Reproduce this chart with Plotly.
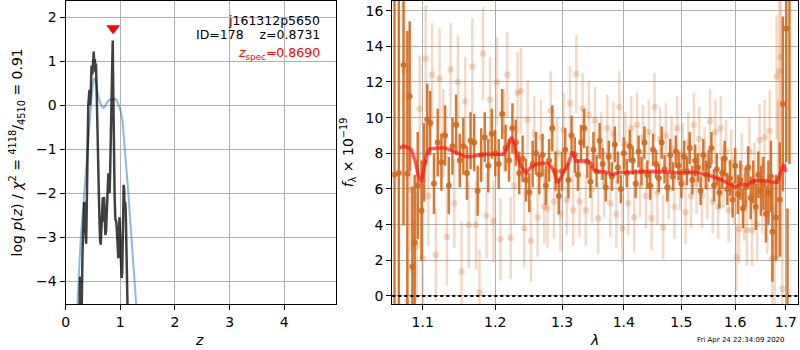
import plotly.graph_objects as go

# ---------------- redshift fit: log p(z) ----------------
z_grid = [0.255, 0.265, 0.28, 0.295, 0.31, 0.325, 0.34, 0.35, 0.362, 0.376, 0.388, 0.40,
          0.415, 0.436, 0.446, 0.46, 0.475, 0.49, 0.50, 0.515, 0.525, 0.535, 0.545, 0.555,
          0.565, 0.575, 0.585, 0.60, 0.615, 0.63, 0.642, 0.655, 0.668, 0.68, 0.69, 0.703,
          0.715, 0.728, 0.74, 0.752, 0.765, 0.782, 0.795, 0.805, 0.815, 0.826, 0.836, 0.848,
          0.856, 0.862, 0.868, 0.875, 0.885, 0.897, 0.91, 0.927, 0.94, 0.952, 0.964, 0.975,
          0.985, 1.0, 1.012, 1.025, 1.036, 1.05, 1.062, 1.07, 1.08, 1.09, 1.1, 1.112, 1.122,
          1.133]
log_pz = [-4.6, -3.9, -3.95, -4.55, -3.3, -2.5, -2.2, -2.35, -3.0, -3.15, -2.2, -1.0,
          0.0, 0.35, 0.0, 0.3, 0.9, 0.7, 1.1, 1.22, 0.85, 1.05, 0.75, 0.95,
          0.5, -0.2, -0.5, -1.4, -2.4, -3.05, -3.17, -2.8, -2.4, -2.1, -2.65, -2.08,
          -2.5, -2.95, -2.85, -2.3, -1.9, -1.55, -1.8, -2.0, -1.5, -0.9, -0.2, 0.6,
          1.45, 1.47, 0.7, -0.3, -1.3, -2.1, -2.6, -2.65, -2.9, -3.3, -3.48, -2.9,
          -2.55, -3.1, -3.5, -3.93, -3.8, -2.6, -1.81, -1.9, -2.35, -2.2, -2.4, -3.2, -3.9,
          -4.6]

z_prior = [0.212, 0.236, 0.257, 0.278, 0.31, 0.34, 0.37, 0.40, 0.43, 0.46, 0.49, 0.52,
           0.55, 0.58, 0.62, 0.66, 0.69, 0.72, 0.76, 0.80, 0.85, 0.90, 0.93, 0.96, 1.0,
           1.04, 1.085, 1.12, 1.145, 1.175, 1.206, 1.237, 1.267, 1.295]
log_prior = [-4.6, -4.0, -3.5, -3.0, -2.5, -2.0, -1.5, -1.0, -0.5, 0.0, 0.4, 0.62,
             0.55, 0.3, 0.1, -0.02, -0.06, -0.03, 0.07, 0.13, 0.12, 0.15, 0.12, 0.03, -0.1,
             -0.35, -1.0, -1.5, -1.95, -2.5, -3.0, -3.5, -4.0, -4.6]

z_spec = 0.8690
z_best = 0.8731
chi2_num, chi2_den = 4118, 4510

# ---------------- 1D spectrum (two orientations) + model ----------------
wave_a = [10635, 10690, 10750, 10800, 10830, 10865, 10895, 10935, 10985, 11020, 11060,
          11100, 11150, 11200, 11250, 11300, 11350, 11400, 11450, 11500, 11550,
          11600, 11650, 11700, 11750, 11800, 11850, 11900, 11950, 12000, 12050,
          12100, 12150, 12200, 12250, 12300, 12350, 12400, 12450, 12500, 12550,
          12600, 12650, 12700, 12750, 12800, 12850, 12900, 12950, 13000, 13050,
          13100, 13150, 13200, 13250, 13300, 13350, 13400, 13450, 13500, 13550,
          13600, 13650, 13700, 13750, 13800, 13850, 13900, 13950, 14000, 14050,
          14100, 14150, 14200, 14250, 14300, 14350, 14400, 14450, 14500, 14550,
          14600, 14650, 14700, 14750, 14800, 14850, 14900, 14950, 15000, 15050,
          15100, 15150, 15200, 15250, 15300, 15350, 15400, 15450, 15500, 15550,
          15600, 15650, 15700, 15750, 15800, 15850, 15900, 15950, 16000, 16050,
          16100, 16150, 16200, 16250, 16300, 16350, 16400, 16450, 16500, 16550,
          16600, 16650, 16700,
          16730, 16800, 16880, 16940, 17010, 17035, 17075]
flux_a = [6.8, 6.9, 12.95, 6.86, 11.2, 1.64, 3.0, 6.2, 4.78, 7.5, 9.9,
          9.7, 6.3, 8.6, 7.5, 9.0, 6.2, 8.4, 9.6, 7.6, 8.4,
          6.9, 8.7, 8.6, 5.9, 7.9, 8.9, 7.3, 9.1, 8.0, 7.4,
          10.2, 8.3, 7.6, 9.4, 8.6, 6.9, 7.7, 6.5, 5.8, 7.4,
          8.0, 6.8, 7.9, 6.2, 7.6, 9.4, 7.0, 5.6, 7.0, 8.2,
          6.5, 9.0, 7.9, 6.8, 8.6, 9.4, 7.5, 6.4, 8.2, 7.0,
          8.7, 7.4, 6.1, 7.8, 6.7, 8.5, 7.2, 6.0, 8.0, 6.9,
          8.4, 7.6, 6.3, 8.1, 7.0, 8.6, 6.8, 6.2, 8.2, 7.4,
          6.6, 8.6, 7.1, 6.1, 7.9, 6.7, 8.1, 7.3, 6.3, 7.8,
          7.0, 8.3, 6.5, 7.6, 7.2, 5.9, 7.9, 6.8, 7.3, 8.3,
          6.2, 7.1, 5.8, 6.9, 7.7, 6.0, 6.6, 5.4, 7.3, 5.7,
          6.5, 4.9, 6.1, 7.2, 5.5, 6.4, 5.0, 6.8, 5.9, 6.3,
          4.6, 5.8, 6.7,
          3.6, 4.4, 5.4, 10.77, 15.0, -4.0, 20.0]
err_a = [14.0, 11.0, 9.0, 8.0, 4.2, 4.5, 3.8, 3.0, 2.8, 2.2, 2.0,
         1.8, 1.7, 1.9, 1.6, 1.7, 1.6, 1.6, 1.7, 1.5, 1.6,
         1.5, 1.6, 1.6, 1.4, 1.5, 1.4, 1.5, 1.4, 1.3, 1.4,
         1.4, 1.3, 1.2, 1.4, 1.3, 1.2, 1.3, 1.2, 1.1, 1.3,
         1.2, 1.1, 1.2, 1.1, 1.2, 1.3, 1.1, 1.0, 1.1, 1.2,
         1.0, 1.1, 1.0, 0.9, 1.0, 1.1, 0.9, 0.9, 1.0, 0.9,
         1.0, 0.9, 0.8, 0.9, 0.8, 1.0, 0.9, 0.8, 0.9, 0.8,
         0.9, 0.8, 0.8, 0.9, 0.8, 0.9, 0.8, 0.8, 0.9, 0.8,
         0.8, 0.9, 0.8, 0.8, 0.9, 0.8, 0.9, 0.8, 0.8, 0.9,
         0.8, 0.9, 0.8, 0.9, 0.8, 0.8, 0.9, 0.8, 0.9, 0.9,
         0.9, 0.9, 0.9, 0.9, 1.0, 0.9, 1.0, 1.0, 1.0, 1.1,
         1.1, 1.1, 1.1, 1.2, 1.2, 1.2, 1.3, 1.3, 1.4, 1.5,
         1.6, 1.8, 2.0,
         2.8, 2.4, 3.2, 4.9, 7.5, 8.9, 12.6]

wave_b = [10760, 10800, 10840, 10880, 10920, 10960, 11000, 11040, 11075,
          11125, 11175, 11225, 11275, 11325, 11375, 11425, 11475, 11525, 11575,
          11625, 11675, 11725, 11775, 11825, 11875, 11925, 11975, 12025, 12075,
          12125, 12175, 12225, 12275, 12325, 12375, 12425, 12475, 12525, 12575,
          12625, 12675, 12725, 12775, 12825, 12875, 12925, 12975, 13025, 13075,
          13125, 13175, 13225, 13275, 13325, 13375, 13425, 13475, 13525, 13575,
          13625, 13675, 13725, 13775, 13825, 13875, 13925, 13975, 14025, 14075,
          14125, 14175, 14225, 14275, 14325, 14375, 14425, 14475, 14525, 14575,
          14625, 14675, 14725, 14775, 14825, 14875, 14925, 14975, 15025, 15075,
          15125, 15175, 15225, 15275, 15325, 15375, 15425, 15475, 15525, 15575,
          15625, 15675, 15725, 15775, 15825, 15875, 15925, 15975, 16025, 16075,
          16125, 16175, 16225, 16275, 16325, 16375, 16425, 16475, 16525, 16575,
          16625, 16675, 16725, 16775, 16815, 16840, 16870, 16900, 16930]
flux_b = [12.6, -0.3, 5.95, 1.33, 2.8, 10.5, 2.1, 13.3, 5.6,
          12.4, 2.3, 12.2, 9.1, 3.3, 12.7, 5.2, 12.0, 1.36, 10.9,
          3.98, 12.86, 3.98, 0.2, 13.6, 4.5, 11.0, 4.2, 12.0, 3.18,
          9.3, 12.4, 3.25, 6.2, 11.4, 11.5, 3.8, 9.9, 3.1, 9.1,
          4.4, 8.9, 5.0, 4.9, 10.4, 5.3, 8.0, 4.6, 9.3, 5.4,
          10.8, 4.8, 12.45, 5.3, 10.5, 4.8, 10.15, 6.0, 9.85, 4.36,
          8.4, 6.3, 9.4, 5.2, 9.1, 4.6, 10.6, 3.8, 8.5, 5.2,
          9.4, 4.4, 9.6, 6.2, 8.9, 5.6, 9.2, 4.36, 10.6, 5.8,
          8.8, 3.85, 9.0, 6.0, 8.3, 5.0, 9.4, 6.5, 7.9, 4.7,
          8.6, 5.6, 9.6, 6.3, 8.8, 5.6, 7.8, 6.1, 9.8, 5.3,
          9.2, 5.0, 9.4, 6.7, 8.1, 4.8, 7.5, 5.9, 2.17, 3.74,
          7.2, 5.0, 3.7, 8.1, 3.7, 6.6, 4.0, 8.75, 5.6, 8.9,
          4.6, 9.25, 2.1, 2.1, 12.3, 6.5, 12.6, 13.4, 0.4, 8.0]
err_b = [4.5, 3.0, 3.5, 3.0, 3.0, 3.0, 3.2, 3.0, 2.8,
         2.9, 2.6, 2.8, 2.5, 2.7, 2.6, 2.5, 2.6, 2.8, 2.5,
         2.4, 2.7, 2.5, 2.4, 2.6, 2.4, 2.4, 2.3, 2.5, 2.3,
         2.3, 2.4, 2.3, 2.2, 2.3, 2.4, 2.2, 2.2, 2.3, 2.1,
         2.2, 2.1, 2.1, 2.2, 2.2, 2.1, 2.0, 2.1, 2.1, 2.0,
         2.1, 2.0, 2.2, 2.0, 2.0, 2.0, 1.9, 1.9, 1.9, 2.0,
         1.9, 1.9, 1.9, 1.9, 1.8, 1.9, 2.0, 1.9, 1.8, 1.8,
         1.8, 1.9, 1.8, 1.8, 1.8, 1.8, 1.8, 1.8, 1.9, 1.8,
         1.8, 1.8, 1.8, 1.7, 1.8, 1.8, 1.8, 1.7, 1.8, 1.8,
         1.7, 1.8, 1.8, 1.7, 1.8, 1.8, 1.7, 1.8, 1.8, 1.8,
         1.8, 1.8, 1.8, 1.8, 1.8, 1.8, 1.8, 1.9, 1.9, 1.9,
         1.9, 1.9, 2.0, 1.9, 2.0, 2.0, 2.0, 2.0, 2.1, 2.1,
         2.2, 2.3, 2.6, 3.0, 3.5, 4.5, 5.5, 6.0, 7.0, 9.0]

model_wave = [1.070, 1.075, 1.080, 1.085, 1.090, 1.094, 1.098, 1.102, 1.106, 1.110,
              1.115, 1.120, 1.130, 1.140, 1.148, 1.155, 1.165, 1.175, 1.185, 1.195,
              1.205, 1.212, 1.218, 1.2235, 1.228, 1.232, 1.238, 1.245, 1.252, 1.262,
              1.272, 1.280, 1.287, 1.293, 1.298, 1.303, 1.309, 1.3165, 1.322, 1.331,
              1.339, 1.345, 1.350, 1.358, 1.367, 1.381, 1.392, 1.408, 1.425, 1.445,
              1.465, 1.485, 1.505, 1.527, 1.552, 1.577, 1.600, 1.610, 1.623, 1.638,
              1.657, 1.672, 1.682, 1.688, 1.696, 1.700]
model_flux = [8.3, 8.4, 8.35, 8.2, 7.6, 6.8, 6.4, 7.3, 8.0, 8.25,
              8.3, 8.3, 8.3, 8.15, 8.0, 7.85, 7.8, 7.9, 7.95, 7.95,
              7.95, 7.95, 8.4, 8.9, 8.5, 7.8, 7.25, 6.9, 7.2, 7.4,
              7.45, 7.4, 7.05, 6.35, 6.6, 7.0, 7.35, 8.1, 7.55, 7.55,
              7.6, 7.45, 7.1, 6.95, 6.98, 6.8, 6.94, 6.94, 6.95, 7.0,
              6.95, 6.9, 6.9, 6.94, 6.75, 6.47, 6.1, 6.28, 6.24, 6.47,
              6.47, 6.4, 6.37, 6.85, 7.37, 6.95]

lam_ticks = [1.1, 1.2, 1.3, 1.4, 1.5, 1.6, 1.7]
flux_ticks = [0, 2, 4, 6, 8, 10, 12, 14, 16]
z_ticks = [0, 1, 2, 3, 4]
pz_ticks = [-4, -3, -2, -1, 0, 1, 2]

FONT = "DejaVu Sans"
W, H = 800, 350
ORANGE = "210,105,30"

fig = go.Figure()

# p(z) panel
fig.add_trace(go.Scatter(x=z_prior, y=log_prior, mode="lines",
                         line=dict(color="rgba(31,119,180,0.5)", width=2),
                         xaxis="x", yaxis="y", showlegend=False))
fig.add_trace(go.Scatter(x=z_grid, y=log_pz, mode="lines",
                         line=dict(color="rgba(0,0,0,0.75)", width=2.5),
                         xaxis="x", yaxis="y", showlegend=False))
fig.add_trace(go.Scatter(x=[z_spec], y=[1.75], mode="markers",
                         marker=dict(symbol="triangle-down", color="red", size=12, line=dict(width=0)),
                         xaxis="x", yaxis="y", showlegend=False))

# spectrum panel: second orientation (faint) then first (strong)
wb = [w / 1e4 for w in wave_b]
wa = [w / 1e4 for w in wave_a]
fig.add_trace(go.Scatter(x=wb, y=flux_b, mode="markers",
                         marker=dict(color=f"rgba({ORANGE},0.25)", size=6.5, line=dict(width=0)),
                         error_y=dict(type="data", array=err_b, visible=True, width=0,
                                      thickness=2.5, color=f"rgba({ORANGE},0.25)"),
                         xaxis="x2", yaxis="y2", showlegend=False))
fig.add_trace(go.Scatter(x=wa, y=flux_a, mode="markers",
                         marker=dict(color=f"rgba({ORANGE},0.9)", size=6, line=dict(width=0)),
                         error_y=dict(type="data", array=err_a, visible=True, width=0,
                                      thickness=2.5, color=f"rgba({ORANGE},0.9)"),
                         xaxis="x2", yaxis="y2", showlegend=False))
fig.add_trace(go.Scatter(x=model_wave, y=model_flux, mode="lines",
                         line=dict(color="rgba(255,20,20,0.7)", width=3.5),
                         xaxis="x2", yaxis="y2", showlegend=False))

# zero level
fig.add_shape(type="line", xref="x2 domain", yref="y2", x0=0, x1=1, y0=0, y1=0,
              line=dict(color="black", width=2, dash="dot"))

axis_common = dict(showline=True, mirror=True, linecolor="black", linewidth=1.2,
                   ticks="outside", ticklen=5, tickwidth=1, tickcolor="black",
                   showgrid=True, gridcolor="#b0b0b0", gridwidth=1, zeroline=False,
                   tickfont=dict(family=FONT, size=14, color="black"))

def px_x(p):
    return p / W

def px_y(p):
    return 1 - p / H

ydom = [px_y(304), px_y(1)]

fig.update_layout(
    width=W, height=H, margin=dict(l=0, r=0, t=0, b=0),
    paper_bgcolor="white", plot_bgcolor="white",
    font=dict(family=FONT, size=14, color="black"),
    xaxis=dict(domain=[px_x(62), px_x(334)], range=[0, 4.945], tickvals=z_ticks,
               anchor="y", **axis_common),
    yaxis=dict(domain=ydom, range=[-4.52, 2.37], tickvals=pz_ticks,
               ticktext=[f"\u2212{-v}" if v < 0 else str(v) for v in pz_ticks],
               anchor="x", **axis_common),
    xaxis2=dict(domain=[px_x(390.7), px_x(799.3)], type="log", range=[0.02556, 0.23697],
                tickvals=lam_ticks, ticktext=[f"{v:.1f}" for v in lam_ticks],
                anchor="y2", **axis_common),
    yaxis2=dict(domain=ydom, range=[-0.45, 16.54], tickvals=flux_ticks,
                anchor="x2", **axis_common),
)

ann = []
# labels inside the p(z) panel
ann.append(dict(x=px_x(320), y=px_y(20), xref="paper", yref="paper", xanchor="right",
                yanchor="middle", text="j161312p5650", showarrow=False,
                font=dict(family=FONT, size=12.5, color="black")))
ann.append(dict(x=px_x(320), y=px_y(35), xref="paper", yref="paper", xanchor="right",
                yanchor="middle", text=f"ID=178\u00a0\u00a0\u00a0\u00a0z={z_best:.4f}",
                showarrow=False, font=dict(family=FONT, size=12.5, color="black")))
ann.append(dict(x=px_x(320), y=px_y(53), xref="paper", yref="paper", xanchor="right",
                yanchor="middle", text=f"<i>z</i><sub>spec</sub>={z_spec:.4f}",
                showarrow=False, font=dict(family=FONT, size=12.5, color="red")))
# axis titles
ann.append(dict(x=px_x(13), y=px_y(152.5), xref="paper", yref="paper", xanchor="center",
                yanchor="middle", textangle=-90, showarrow=False,
                text=(f"log <i>p</i>(<i>z</i>) / <i>χ</i><sup>2</sup> = "
                      f"<sup>{chi2_num}</sup>/<sub>{chi2_den}</sub> = {chi2_num / chi2_den:.2f}"),
                font=dict(family=FONT, size=14, color="black")))
ann.append(dict(x=px_x(346), y=px_y(152.5), xref="paper", yref="paper", xanchor="center",
                yanchor="middle", textangle=-90, showarrow=False,
                text="<i>f</i><sub>λ</sub> × 10<sup>−19</sup>",
                font=dict(family=FONT, size=14, color="black")))
ann.append(dict(x=px_x(197), y=px_y(340), xref="paper", yref="paper", xanchor="center",
                yanchor="middle", text="<i>z</i>", showarrow=False,
                font=dict(family=FONT, size=14, color="black")))
ann.append(dict(x=px_x(594), y=px_y(340), xref="paper", yref="paper", xanchor="center",
                yanchor="middle", text="<i>λ</i>", showarrow=False,
                font=dict(family=FONT, size=14, color="black")))
ann.append(dict(x=px_x(788), y=px_y(340), xref="paper", yref="paper", xanchor="right",
                yanchor="middle", text="Fri Apr 24 22:34:09 2020", showarrow=False,
                font=dict(family=FONT, size=7, color="black")))
fig.update_layout(annotations=ann)

fig.write_html("out.html")
